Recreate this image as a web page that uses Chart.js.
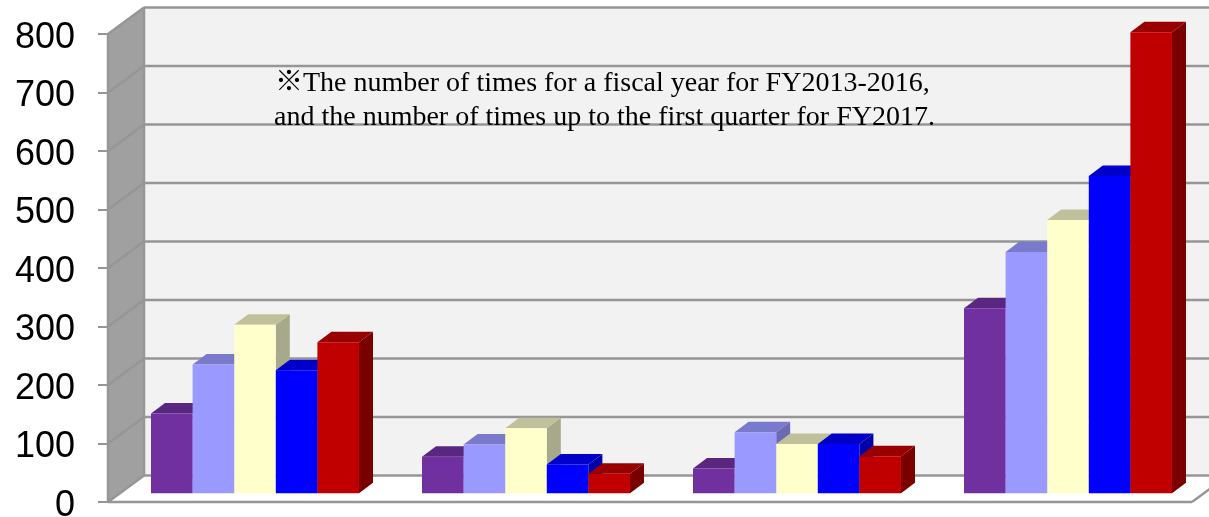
<!DOCTYPE html>
<html>
<head>
<meta charset="utf-8">
<style>
  html, body { margin: 0; padding: 0; background: #fff; overflow: hidden; }
  canvas { display: block; }
</style>
<script src="https://cdn.jsdelivr.net/npm/chart.js@4"></script>
</head>
<body>
<canvas id="grafico" width="1209" height="517"></canvas>
<script>
let categorias = ["Item 1", "Item 2", "Item 3", "Item 4"];
let anios = ["FY2013", "FY2014", "FY2015", "FY2016", "FY2017"];

let fy2013 = [138, 64, 44, 318];
let fy2014 = [222, 85, 106, 414];
let fy2015 = [290, 113, 86, 469];
let fy2016 = [212, 51, 86, 544];
let fy2017 = [260, 35, 65, 790];
let series = [fy2013, fy2014, fy2015, fy2016, fy2017];

let coloresFrente = ["#7030a0", "#9999ff", "#ffffcc", "#0000ff", "#c00000"];
let coloresTecho = ["#592680", "#7a7acc", "#c0c09a", "#0000c8", "#990000"];
let coloresLado = ["#4f2270", "#6b6bb3", "#a8a88a", "#0000a8", "#7a0000"];

let nota = [
  "※The number of times for a fiscal year for FY2013-2016,",
  "and the number of times up to the first quarter for FY2017."
];

const GRIS = "#969696";

function poligono(ctx, puntos, color) {
  ctx.fillStyle = color;
  ctx.beginPath();
  puntos.forEach(([x, y], i) => i ? ctx.lineTo(x, y) : ctx.moveTo(x, y));
  ctx.closePath();
  ctx.fill();
}

function linea(ctx, x1, y1, x2, y2) {
  ctx.beginPath();
  ctx.moveTo(x1, y1);
  ctx.lineTo(x2, y2);
  ctx.stroke();
}

// walls, floor and gridlines of the 3D box
const caja = {
  id: "caja",
  beforeDatasetsDraw(chart) {
    const { ctx, chartArea: a, scales: { y } } = chart;
    const fx = 36, fy = -26.5;
    ctx.save();
    poligono(ctx, [[a.left + fx, a.top + fy], [a.right + fx, a.top + fy], [a.right + fx, a.bottom + fy], [a.left + fx, a.bottom + fy]], "#f2f2f2");
    poligono(ctx, [[a.left, a.top], [a.left + fx, a.top + fy], [a.left + fx, a.bottom + fy], [a.left, a.bottom]], "#a0a0a0");
    poligono(ctx, [[a.left, a.bottom], [a.left + fx, a.bottom + fy], [a.right + fx, a.bottom + fy], [a.right, a.bottom]], "#ffffff");

    ctx.strokeStyle = GRIS;
    ctx.lineWidth = 2.5;
    y.ticks.forEach(t => {
      const py = y.getPixelForValue(t.value);
      linea(ctx, a.left, py, a.left + fx, py + fy);
      linea(ctx, a.left + fx, py + fy, a.right + fx, py + fy);
    });
    linea(ctx, a.left, a.top, a.left, a.bottom);
    linea(ctx, a.left + fx, a.top + fy, a.left + fx, a.bottom + fy);
    linea(ctx, a.left, a.bottom, a.right, a.bottom);
    linea(ctx, a.right, a.bottom, a.right + fx, a.bottom + fy);

    ctx.fillStyle = "#000";
    ctx.font = '28px "Liberation Serif", "Noto Sans CJK JP"';
    ctx.textAlign = "left";
    ctx.textBaseline = "alphabetic";
    ctx.fillText(nota[0], 275, 91);
    ctx.fillText(nota[1], 274, 125);
    ctx.restore();
  }
};

// Chart.js paints the last dataset first, here the bars go left to right so each one covers the side of the previous
const barras3d = {
  id: "barras3d",
  beforeDatasetsDraw(chart) {
    const { ctx } = chart;
    const px = 14, py = -10.5;
    ctx.save();
    ctx.translate(11.5, -7.7);
    categorias.forEach((c, i) => {
      series.forEach((s, d) => {
        const el = chart.getDatasetMeta(d).data[i];
        const { x, y, base, width } = el.getProps(["x", "y", "base", "width"], true);
        const izq = x - width / 2, der = x + width / 2;
        poligono(ctx, [[der, y], [der + px, y + py], [der + px, base + py], [der, base]], coloresLado[d]);
        poligono(ctx, [[izq, y], [izq + px, y + py], [der + px, y + py], [der, y]], coloresTecho[d]);
        el.draw(ctx);
      });
    });
    ctx.restore();
    return false;
  }
};

new Chart(document.getElementById("grafico").getContext("2d"), {
  type: "bar",
  data: {
    labels: categorias,
    datasets: series.map((s, d) => ({
      label: anios[d],
      data: s,
      backgroundColor: coloresFrente[d],
      borderWidth: 0
    }))
  },
  options: {
    responsive: false,
    animation: false,
    categoryPercentage: 0.7675,
    barPercentage: 1,
    layout: { padding: { top: 34, bottom: 15, right: 17, left: 0 } },
    plugins: { legend: { display: false }, tooltip: { enabled: false } },
    scales: {
      x: { display: false },
      y: {
        min: 0,
        max: 800,
        afterFit: s => { s.width = 108; s.paddingTop = 0; s.paddingBottom = 0; },
        border: { display: false },
        grid: { drawOnChartArea: false, tickLength: 10, color: GRIS, lineWidth: 2 },
        ticks: {
          stepSize: 100,
          padding: 23,
          labelOffset: 4,
          color: "#000",
          font: { family: '"Liberation Sans"', size: 36 }
        }
      }
    }
  },
  plugins: [caja, barras3d]
});
</script>
</body>
</html>
